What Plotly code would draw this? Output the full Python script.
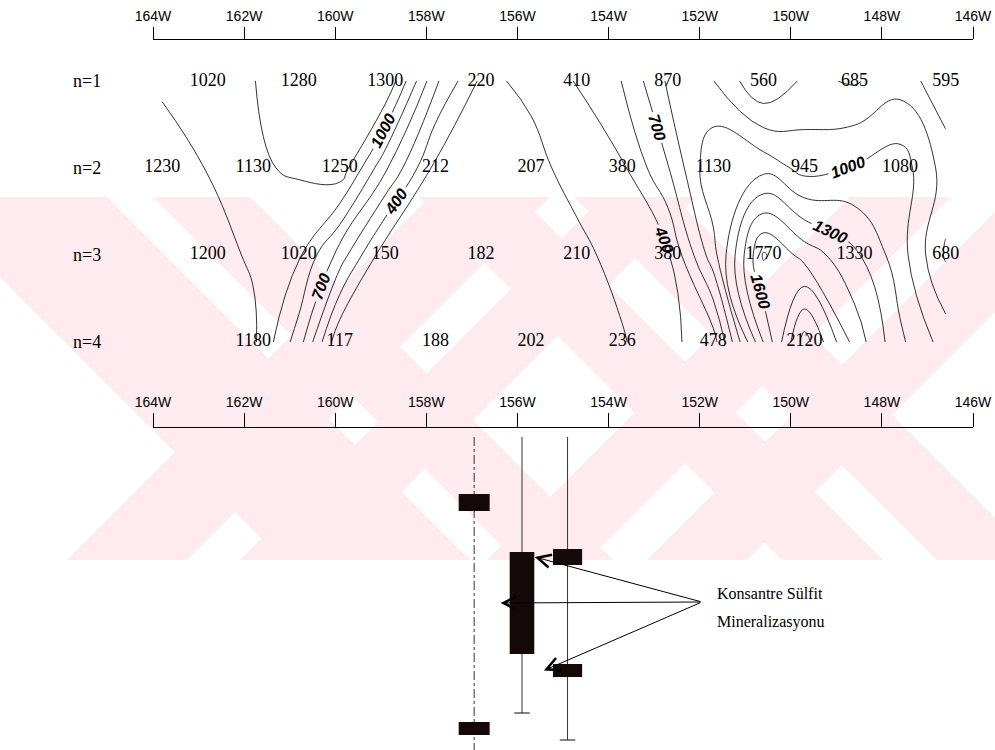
import plotly.graph_objects as go

W, H = 995, 750

# ---------------- data: resistivity pseudo-section ----------------
lon_odd = [162.8, 160.8, 158.9, 156.8, 154.7, 152.7, 150.6, 148.6, 146.6]
lon_even = [163.8, 161.8, 159.9, 157.8, 155.7, 153.7, 151.7, 149.7, 147.6]
n1_vals = [1020, 1280, 1300, 220, 410, 870, 560, 685, 595]
n2_vals = [1230, 1130, 1250, 212, 207, 380, 1130, 945, 1080]
n3_vals = [1200, 1020, 150, 182, 210, 380, 1770, 1330, 680]
n4_lon = lon_even[1:8]
n4_vals = [1180, 117, 188, 202, 236, 478, 2120]
row_labels = ["n=1", "n=2", "n=3", "n=4"]
labelled_levels = dict(start=400, end=1900, size=300)
plain_levels = dict(start=250, end=2050, size=300)

# axis ticks
tick_lons = [164, 162, 160, 158, 156, 154, 152, 150, 148, 146]
tick_text = [f"{v}W" for v in tick_lons]

# ---------------- data: drill holes ----------------
hole_lon = [156.95, 155.9, 154.9]
hole_top = [9, 9, 9]
hole_bottom = [322, 285, 312]
hole_cap = [False, True, True]
# mineralised intervals: (hole index, from, to)
min_hole = [0, 0, 1, 2, 2]
min_from = [66, 294, 124, 121, 236]
min_to = [83, 307, 226, 137, 249]
label_lines = ["Konsantre Sülfit", "Mineralizasyonu"]

# ---------------- figure ----------------
xs, ys, zs = [], [], []
for lons, vals, n in [(lon_odd, n1_vals, 1), (lon_even, n2_vals, 2),
                      (lon_odd, n3_vals, 3), (n4_lon, n4_vals, 4)]:
    xs += lons
    ys += [n] * len(lons)
    zs += vals

fig = go.Figure()

for lv, lab in [(plain_levels, False), (labelled_levels, True)]:
    fig.add_trace(go.Contour(
        x=xs, y=ys, z=zs, xaxis="x", yaxis="y",
        contours=dict(coloring="none", showlabels=lab,
                      labelfont=dict(family="Liberation Sans", size=16, color="black",
                                     style="italic", weight="bold"),
                      **lv),
        line=dict(color="black", width=0.8, smoothing=1.3),
        showscale=False, hoverinfo="skip",
    ))

fig.add_trace(go.Scatter(
    x=xs, y=ys, text=[str(v) for v in zs], mode="text", cliponaxis=False,
    textfont=dict(family="Liberation Serif", size=18, color="black"),
    xaxis="x", yaxis="y", hoverinfo="skip", showlegend=False,
))

# drill holes
hole_styles = ["dashdot", "solid", "solid"]
for i, lon in enumerate(hole_lon):
    fig.add_trace(go.Scatter(
        x=[lon, lon], y=[hole_top[i], hole_bottom[i]], mode="lines",
        line=dict(color="#333", width=1, dash=hole_styles[i]),
        xaxis="x2", yaxis="y2", hoverinfo="skip", showlegend=False))
    if hole_cap[i]:
        fig.add_trace(go.Scatter(
            x=[lon - 0.17, lon + 0.17], y=[hole_bottom[i]] * 2, mode="lines",
            line=dict(color="#333", width=1.2),
            xaxis="x2", yaxis="y2", hoverinfo="skip", showlegend=False))

half_w = [0.34, 0.27, 0.32]
shapes = []
for h, a, b in zip(min_hole, min_from, min_to):
    shapes.append(dict(type="rect", xref="x2", yref="y2",
                       x0=hole_lon[h] - half_w[h], x1=hole_lon[h] + half_w[h],
                       y0=a, y1=b, fillcolor="#140808", line=dict(width=0)))

# watermark (pale red diagonal bands) in pixel space
def px(x):
    return x / W

def py(y):
    return 1 - y / H

wm_top, wm_bot = 197, 560
wm_shift = wm_bot - wm_top
bands = [("\\", -80, 107), ("\\", 153, 250), ("/", 430, 550), ("/", 603, 696),
         ("\\", 419, 520), ("\\", 574, 674), ("/", 850, 951), ("/", 1010, 1110)]
for d, a, b in bands:
    s = wm_shift if d == "\\" else -wm_shift
    path = (f"M {px(a)} {py(wm_top)} L {px(b)} {py(wm_top)} "
            f"L {px(b + s)} {py(wm_bot)} L {px(a + s)} {py(wm_bot)} Z")
    shapes.append(dict(type="path", path=path, xref="paper", yref="paper",
                       fillcolor="rgb(253,235,239)", line=dict(width=0),
                       layer="below"))

annotations = []
for i, lab in enumerate(row_labels):
    annotations.append(dict(text=lab, xref="paper", yref="y", x=87 / W, y=i + 1,
                            showarrow=False, xanchor="center",
                            font=dict(family="Liberation Serif", size=18, color="black")))

# arrows to mineralised intervals
tail_lon, tail_depth = 151.95, 174
for k in [3, 2, 4]:
    h = min_hole[k]
    gap = 0.4 if k == 3 else 0.2
    annotations.append(dict(
        text="", x=hole_lon[h] + half_w[h] + gap, y=(min_from[k] + min_to[k]) / 2,
        xref="x2", yref="y2", ax=tail_lon, ay=tail_depth, axref="x2", ayref="y2",
        showarrow=True, arrowhead=5, arrowsize=2.6, arrowwidth=1, arrowcolor="black"))
for j, t in enumerate(label_lines):
    annotations.append(dict(text=t, x=151.66, y=165 + 29 * j, xref="x2", yref="y2",
                            xanchor="left", showarrow=False,
                            font=dict(family="Liberation Serif", size=16, color="black")))

axis_common = dict(range=[164, 146], tickvals=tick_lons, ticktext=tick_text,
                   side="top", showline=True, linecolor="black", linewidth=1,
                   ticks="outside", tickcolor="black", tickwidth=1,
                   showgrid=False, zeroline=False, automargin=False,
                   tickfont=dict(family="Liberation Sans", size=14, color="black"),
                   domain=[153 / W, 973 / W])

fig.update_layout(
    width=W, height=H, margin=dict(l=0, r=0, t=0, b=0, autoexpand=False),
    paper_bgcolor="white", plot_bgcolor="rgba(0,0,0,0)", showlegend=False,
    xaxis=dict(axis_common, anchor="y", ticklen=12),
    yaxis=dict(domain=[1 - 370 / H, 1 - 39.5 / H], range=[4.322, 0.523],
               visible=False, showgrid=False, zeroline=False, automargin=False),
    xaxis2=dict(axis_common, anchor="y2", ticklen=14),
    yaxis2=dict(domain=[0, 1 - 428 / H], range=[322, 0], visible=False,
                showgrid=False, zeroline=False, automargin=False),
    shapes=shapes, annotations=annotations,
)

fig.write_html("out.html", config={"displayModeBar": False},
               post_script="document.body.style.margin='0px';")
